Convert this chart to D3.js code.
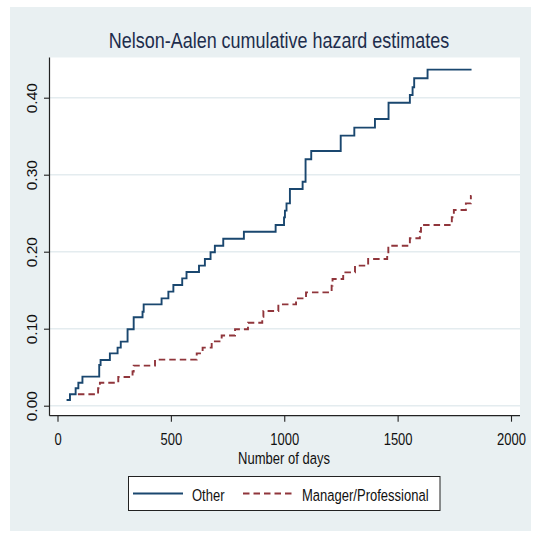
<!DOCTYPE html>
<html>
<head>
<meta charset="utf-8">
<script src="https://cdn.jsdelivr.net/npm/d3@7"></script>
<style>
  html, body { margin: 0; padding: 0; background: #ffffff; }
  svg { display: block; }
  text { font-family: "Liberation Sans", Arial, Helvetica, sans-serif; }
</style>
</head>
<body>
<svg id="chart" width="533" height="534"></svg>
<script>
// Nelson-Aalen cumulative hazard, step estimates by occupation group
const seriesNames = ["Other", "Manager/Professional"];

// "Other": failure times (days) and cumulative hazard after each step
const otherDays = [40, 55, 80, 92, 110, 184, 190, 231, 265, 279, 309, 336, 375, 380, 459, 489, 511, 550, 569,
  624, 650, 675, 694, 731, 822, 962, 999, 1003, 1010, 1025, 1081, 1094, 1119, 1249, 1309, 1400, 1460,
  1554, 1566, 1573, 1632];
const otherHazard = [0.0074, 0.0148, 0.0226, 0.0299, 0.0377, 0.0529, 0.0594, 0.0680, 0.0754, 0.0832, 0.0992,
  0.1148, 0.1221, 0.1316, 0.1394, 0.1481, 0.1568, 0.1654, 0.1737, 0.1819, 0.1905, 0.1992, 0.2078, 0.2169,
  0.2260, 0.2347, 0.2446, 0.2533, 0.2628, 0.2814, 0.2909, 0.3200, 0.3308, 0.3507, 0.3611, 0.3723, 0.3935,
  0.4035, 0.4135, 0.4252, 0.4364];

// "Manager/Professional"
const mgrDays = [90, 179, 187, 268, 331, 336, 430, 614, 640, 680, 724, 783, 840, 903, 908, 974, 1052, 1096,
  1209, 1213, 1260, 1312, 1370, 1454, 1459, 1554, 1598, 1603, 1739, 1748, 1801, 1823];
const mgrHazard = [0.0148, 0.0226, 0.0299, 0.0373, 0.0444, 0.0520, 0.0598, 0.0680, 0.0754, 0.0836, 0.0912,
  0.0992, 0.1078, 0.1155, 0.1230, 0.1316, 0.1394, 0.1472, 0.1559, 0.1645, 0.1732, 0.1819, 0.1905, 0.1992,
  0.2078, 0.2174, 0.2260, 0.2347, 0.2447, 0.2542, 0.2628, 0.2723];

const followUpEnd = 1826;
const xTicks = [0, 500, 1000, 1500, 2000];
const yTicks = [0, 0.1, 0.2, 0.3, 0.4];
const yTickLabels = ["0.00", "0.10", "0.20", "0.30", "0.40"];

const colors = ["#1a476f", "#90353b"];
const dashes = [null, "6.5,4"];
const squeezeX = 0.84;   // horizontal text is set narrow
const stretchY = 1.08;   // and a little tall

const svg = d3.select("#chart");

// graph region background
svg.append("rect").attr("x", 10).attr("y", 7).attr("width", 521).attr("height", 524)
  .attr("fill", "#e9f0f2");

// plot region
const plot = { left: 49.5, right: 520, top: 57.5, bottom: 415.7 };
svg.append("rect").attr("x", plot.left).attr("y", plot.top)
  .attr("width", plot.right - plot.left).attr("height", plot.bottom - plot.top)
  .attr("fill", "#ffffff");

const x = d3.scaleLinear().domain([0, 2000]).range([57.5, 511]);
const y = d3.scaleLinear().domain([0, 0.4]).range([405.7, 97.7]);

// horizontal grid
svg.append("g").selectAll("line").data(yTicks).join("line")
  .attr("x1", plot.left).attr("x2", plot.right)
  .attr("y1", d => y(d)).attr("y2", d => y(d))
  .attr("stroke", "#e4ecef").attr("stroke-width", 1.6);

// step curves
const series = [
  { name: seriesNames[0], days: otherDays, haz: otherHazard },
  { name: seriesNames[1], days: mgrDays, haz: mgrHazard }
];
const line = d3.line().x(d => x(d[0])).y(d => y(d[1])).curve(d3.curveStepAfter);
series.forEach((s, i) => {
  const pts = s.days.map((d, k) => [d, s.haz[k]]);
  pts.push([followUpEnd, s.haz[s.haz.length - 1]]);
  svg.append("path").datum(pts)
    .attr("d", line)
    .attr("fill", "none")
    .attr("stroke", colors[i])
    .attr("stroke-width", 1.9)
    .attr("stroke-dasharray", dashes[i]);
});

// axes
const yAxis = d3.axisLeft(y).tickValues(yTicks).tickFormat((d, i) => yTickLabels[i])
  .tickSize(5.5).tickSizeOuter(0);
const gy = svg.append("g").attr("transform", `translate(${plot.left},0)`).call(yAxis);
gy.select(".domain").remove();
gy.selectAll(".tick line").attr("stroke", "#222").attr("stroke-width", 1.1);
gy.selectAll(".tick text")
  .attr("x", null).attr("dy", null)
  .attr("text-anchor", "middle")
  .attr("transform", `translate(-13,0) scale(0.97,1) rotate(-90)`)
  .attr("font-size", 15.5).attr("fill", "#111");

const xAxis = d3.axisBottom(x).tickValues(xTicks).tickFormat(d3.format("d"))
  .tickSize(6).tickSizeOuter(0);
const gx = svg.append("g").attr("transform", `translate(0,${plot.bottom})`).call(xAxis);
gx.select(".domain").remove();
gx.selectAll(".tick line").attr("stroke", "#222").attr("stroke-width", 1.1);
gx.selectAll(".tick text")
  .attr("y", null).attr("dy", null)
  .attr("text-anchor", "middle")
  .attr("transform", `translate(0,29) scale(${squeezeX},${stretchY})`)
  .attr("font-size", 15.5).attr("fill", "#111");

// axis lines
svg.append("line").attr("x1", plot.left).attr("x2", plot.left)
  .attr("y1", plot.top).attr("y2", plot.bottom).attr("stroke", "#222").attr("stroke-width", 1.2);
svg.append("line").attr("x1", plot.left).attr("x2", plot.right)
  .attr("y1", plot.bottom).attr("y2", plot.bottom).attr("stroke", "#222").attr("stroke-width", 1.2);

function squeezedText(parent, tx, ty, str, size, fill, sy) {
  return parent.append("text")
    .attr("transform", `translate(${tx},${ty}) scale(${squeezeX},${sy})`)
    .attr("font-size", size).attr("fill", fill).text(str);
}

// titles
squeezedText(svg, 279, 48, "Nelson-Aalen cumulative hazard estimates", 21.4, "#1d2d4c", 1.05)
  .attr("text-anchor", "middle");
squeezedText(svg, 284, 464, "Number of days", 15.5, "#111", stretchY).attr("text-anchor", "middle");

// legend
const legend = svg.append("g");
legend.append("rect").attr("x", 128.5).attr("y", 476.5).attr("width", 311.5).attr("height", 34)
  .attr("fill", "#ffffff").attr("stroke", "#222").attr("stroke-width", 1);
const legendItems = [
  { x1: 133, x2: 183, tx: 192 },
  { x1: 243, x2: 295, tx: 302 }
];
legendItems.forEach((it, i) => {
  legend.append("line").attr("x1", it.x1).attr("x2", it.x2).attr("y1", 493.5).attr("y2", 493.5)
    .attr("stroke", colors[i]).attr("stroke-width", 1.9).attr("stroke-dasharray", dashes[i]);
  squeezedText(legend, it.tx, 500.5, seriesNames[i], 15.5, "#111", stretchY);
});
</script>
</body>
</html>
